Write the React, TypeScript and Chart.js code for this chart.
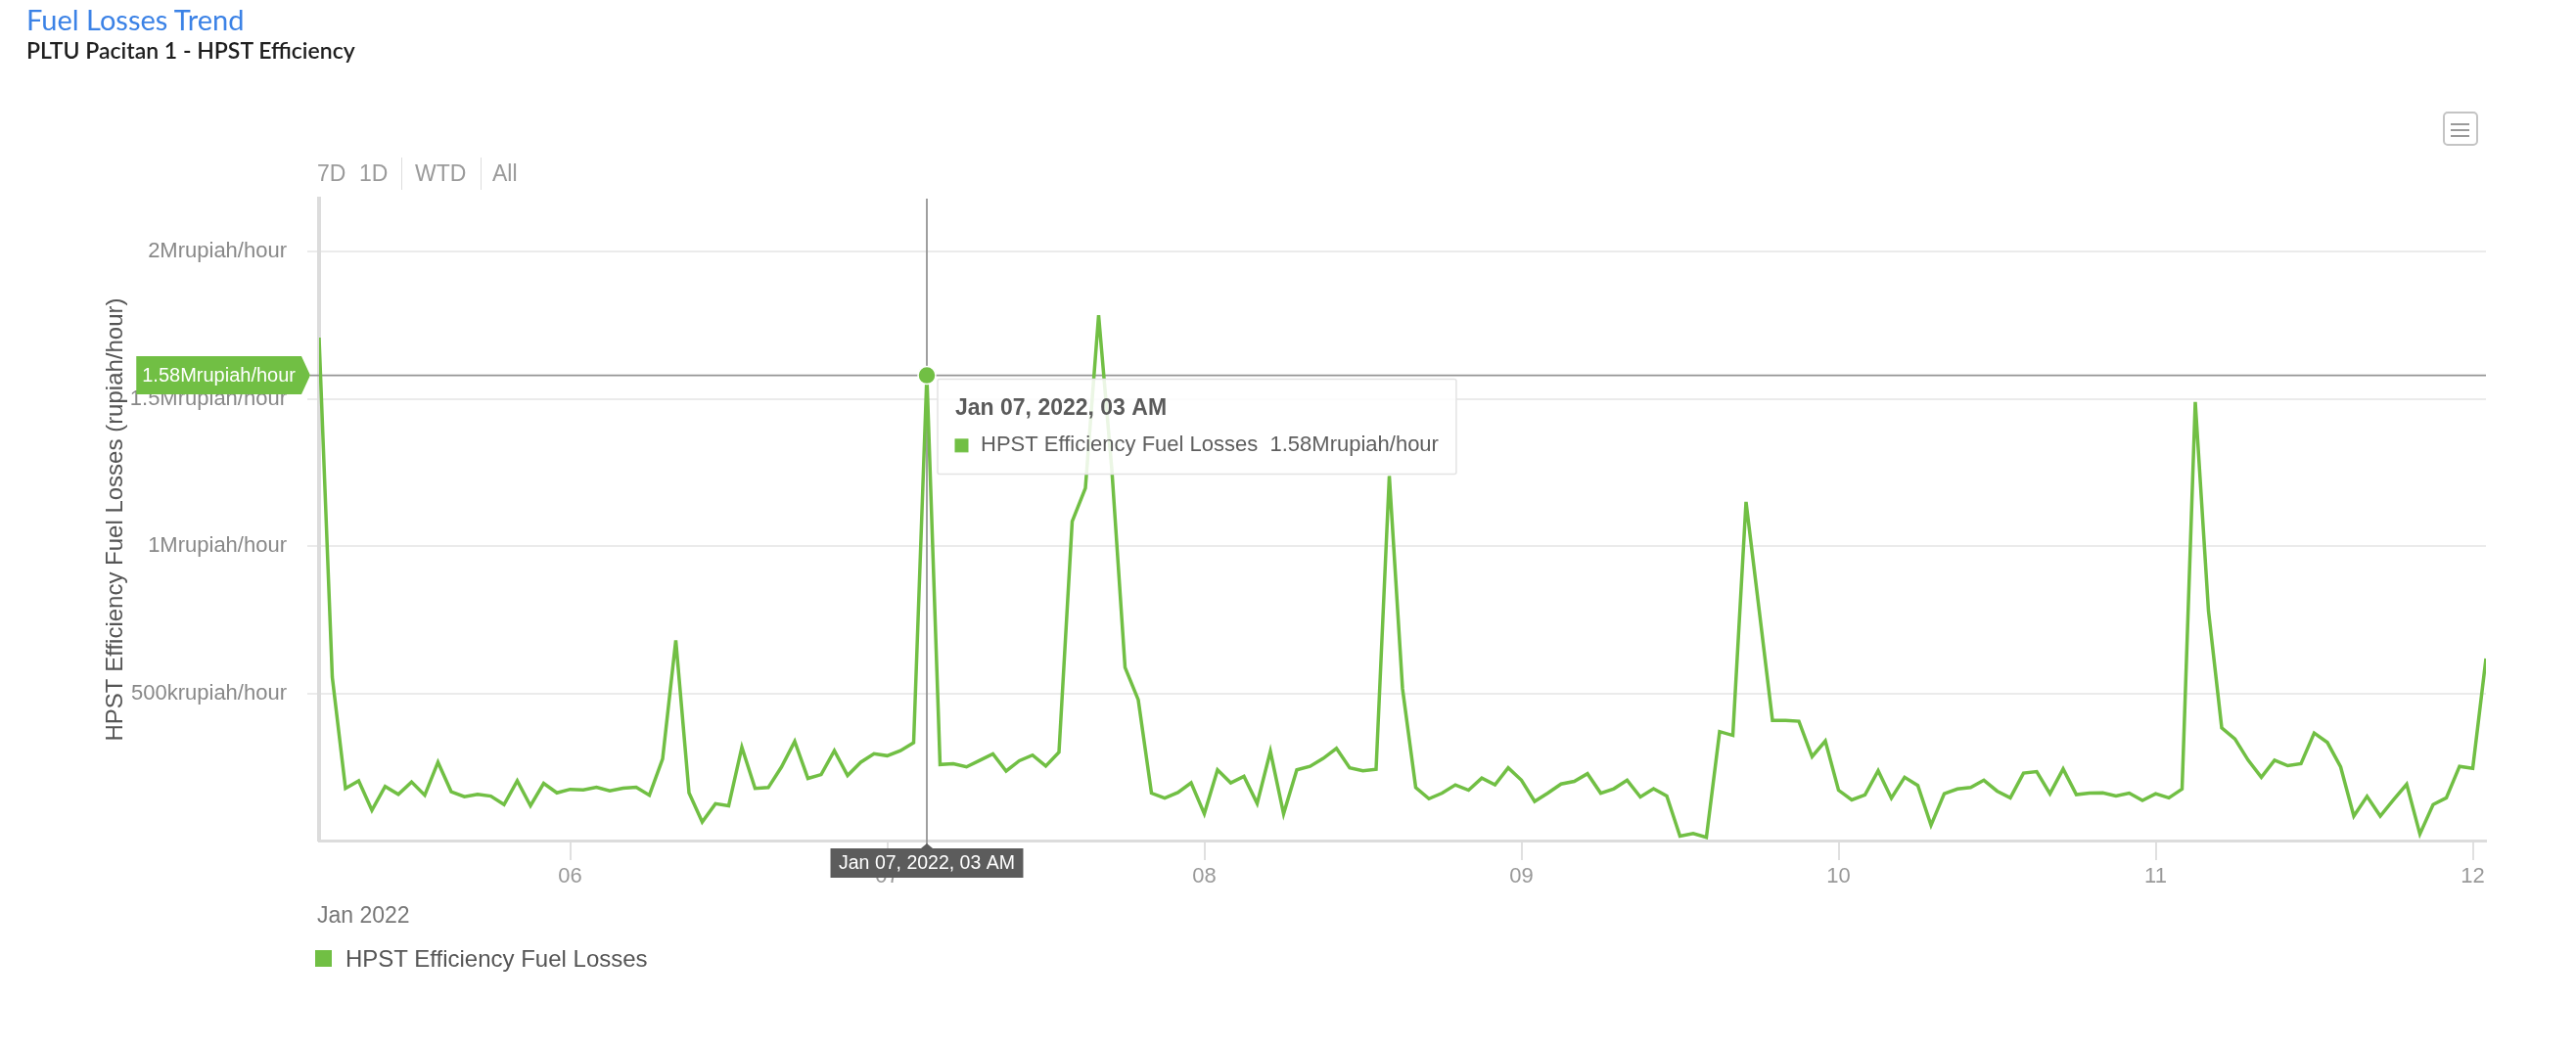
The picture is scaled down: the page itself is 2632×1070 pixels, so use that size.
import React, { useEffect, useRef } from 'react';
import { Chart, registerables, Tooltip } from 'chart.js';

Chart.register(...registerables);

const GREEN = '#71bf44';
const SERIES_NAME = 'HPST Efficiency Fuel Losses';
const Y_TITLE = 'HPST Efficiency Fuel Losses (rupiah/hour)';
const UNIT = 'rupiah/hour';
const HOUR_MS = 3600000;
const FIRST_READING = Date.UTC(2022, 0, 5, 5); // hourly readings from Jan 05, 05:00
const HIGHLIGHT_TIME = Date.UTC(2022, 0, 7, 3);
const FONT = "'Liberation Sans', Arial, Helvetica, sans-serif";

// hourly fuel losses (rupiah/hour)
const hourlyLosses = [
  1708000, 555000, 177000, 203000, 103000, 184000, 157000, 199000, 154000, 266000,
  166000, 149000, 157000, 151000, 122000, 203000, 118000, 194000, 162000, 174000,
  172000, 181000, 169000, 178000, 181000, 154000, 277000, 680000, 162000, 63000,
  125000, 118000, 317000, 177000, 180000, 250000, 337000, 211000, 224000, 305000,
  221000, 266000, 295000, 288000, 305000, 332000, 1580000, 258000, 261000, 250000,
  272000, 294000, 236000, 271000, 290000, 253000, 300000, 1084000, 1197000, 1784000,
  1260000, 588000, 478000, 161000, 144000, 163000, 196000, 91000, 240000, 196000,
  218000, 126000, 303000, 91000, 240000, 252000, 279000, 313000, 247000, 237000,
  242000, 1238000, 516000, 180000, 142000, 161000, 189000, 171000, 212000, 189000,
  247000, 205000, 133000, 161000, 192000, 201000, 227000, 161000, 176000, 205000,
  148000, 176000, 151000, 15000, 24000, 11000, 370000, 357000, 1150000, 780000,
  408000, 408000, 405000, 285000, 338000, 171000, 138000, 155000, 237000, 144000,
  215000, 187000, 52000, 159000, 175000, 180000, 205000, 168000, 145000, 229000,
  234000, 159000, 243000, 156000, 161000, 162000, 151000, 161000, 136000, 159000,
  145000, 175000, 1489000, 780000, 383000, 345000, 273000, 215000, 273000, 254000,
  261000, 365000, 333000, 250000, 83000, 150000, 83000, 138000, 191000, 22000,
  122000, 145000, 252000, 245000, 618000,
];

const xTickDays = [6, 7, 8, 9, 10, 11, 12];
const xTickLabels = ['06', '07', '08', '09', '10', '11', '12'];
const yTickValues = [500000, 1000000, 1500000, 2000000];
const yTickLabels = ['500krupiah/hour', '1Mrupiah/hour', '1.5Mrupiah/hour', '2Mrupiah/hour'];
const Y_MAX = 2180000;
const MONTHS = ['Jan', 'Feb', 'Mar', 'Apr', 'May', 'Jun', 'Jul', 'Aug', 'Sep', 'Oct', 'Nov', 'Dec'];

function pad2(n: number) {
  return String(n).padStart(2, '0');
}

function formatValue(v: number): string {
  if (v >= 1e6) return `${+(v / 1e6).toFixed(2)}M${UNIT}`;
  if (v >= 1e3) return `${+(v / 1e3).toFixed(2)}k${UNIT}`;
  return `${v}${UNIT}`;
}

function formatTime(ms: number): string {
  const d = new Date(ms);
  const h = d.getUTCHours();
  const h12 = h % 12 === 0 ? 12 : h % 12;
  return `${MONTHS[d.getUTCMonth()]} ${pad2(d.getUTCDate())}, ${d.getUTCFullYear()}, ${pad2(h12)} ${h < 12 ? 'AM' : 'PM'}`;
}

export default function App() {
  const canvasRef = useRef<HTMLCanvasElement>(null);

  useEffect(() => {
    const canvas = canvasRef.current;
    if (!canvas) return;
    const points = hourlyLosses.map((y, i) => ({ x: FIRST_READING + i * HOUR_MS, y }));
    const hi = points.findIndex((p) => p.x === HIGHLIGHT_TIME);

    (Tooltip as any).positioners.pinned = (items: any[]) => {
      if (!items.length) return false;
      const el = items[0].element;
      return { x: el.x + 13, y: el.y + 4 };
    };

    const crosshair = {
      id: 'crosshair',
      beforeDatasetsDraw(chart: any) {
        const el = chart.getDatasetMeta(0).data[hi];
        if (!el) return;
        const { ctx, chartArea } = chart;
        ctx.save();
        ctx.strokeStyle = '#959595';
        ctx.lineWidth = 1.8;
        ctx.beginPath();
        ctx.moveTo(el.x, chartArea.top);
        ctx.lineTo(el.x, chartArea.bottom + 4);
        ctx.moveTo(chartArea.left - 9, el.y);
        ctx.lineTo(chartArea.right, el.y);
        ctx.stroke();
        ctx.restore();
      },
      afterDatasetsDraw(chart: any) {
        const el = chart.getDatasetMeta(0).data[hi];
        if (!el) return;
        const { ctx, chartArea } = chart;
        ctx.save();
        // marker
        ctx.beginPath();
        ctx.arc(el.x, el.y, 9, 0, Math.PI * 2);
        ctx.fillStyle = GREEN;
        ctx.fill();
        ctx.lineWidth = 1.5;
        ctx.strokeStyle = '#ffffff';
        ctx.stroke();

        // y badge
        const yLabel = formatValue(hourlyLosses[hi]);
        ctx.font = `20px ${FONT}`;
        const tw = ctx.measureText(yLabel).width;
        const right = chartArea.left - 18;
        const leftX = right - tw - 12;
        const bh = 39;
        ctx.fillStyle = GREEN;
        ctx.beginPath();
        ctx.moveTo(leftX, el.y - bh / 2);
        ctx.lineTo(right, el.y - bh / 2);
        ctx.lineTo(chartArea.left - 9, el.y);
        ctx.lineTo(right, el.y + bh / 2);
        ctx.lineTo(leftX, el.y + bh / 2);
        ctx.closePath();
        ctx.fill();
        ctx.fillStyle = '#ffffff';
        ctx.textAlign = 'left';
        ctx.textBaseline = 'middle';
        ctx.fillText(yLabel, leftX + 6, el.y + 1);

        // x label
        const xLabel = formatTime(HIGHLIGHT_TIME);
        ctx.font = `19.5px ${FONT}`;
        const xw = ctx.measureText(xLabel).width + 17;
        const top = chartArea.bottom + 8;
        const xh = 30;
        ctx.fillStyle = '#5c5c5c';
        ctx.fillRect(el.x - xw / 2, top, xw, xh);
        ctx.beginPath();
        ctx.moveTo(el.x - 6, top);
        ctx.lineTo(el.x + 6, top);
        ctx.lineTo(el.x, top - 5);
        ctx.closePath();
        ctx.fill();
        ctx.fillStyle = '#ffffff';
        ctx.textAlign = 'center';
        ctx.fillText(xLabel, el.x, top + xh / 2 + 1);
        ctx.restore();
      },
    };

    const chart = new Chart(canvas, {
      type: 'line',
      data: {
        datasets: [
          {
            label: SERIES_NAME,
            data: points,
            borderColor: GREEN,
            backgroundColor: GREEN,
            borderWidth: 3.5,
            pointRadius: 0,
            pointHoverRadius: 0,
            tension: 0,
            fill: false,
          },
        ],
      },
      options: {
        responsive: false,
        animation: false,
        devicePixelRatio: 1,
        events: [],
        layout: { padding: { left: 0, top: 203, right: 92, bottom: 151 } },
        font: { family: FONT },
        scales: {
          x: {
            type: 'linear',
            min: points[0].x,
            max: points[points.length - 1].x,
            afterBuildTicks: (scale: any) => {
              scale.ticks = xTickDays.map((d) => ({ value: Date.UTC(2022, 0, d) }));
            },
            afterFit: (scale: any) => {
              scale.height = 60;
            },
            ticks: {
              autoSkip: false,
              maxRotation: 0,
              padding: 4,
              color: '#999999',
              font: { family: FONT, size: 22 },
              callback: (_v: any, i: number) => xTickLabels[i],
            },
            grid: {
              drawOnChartArea: false,
              drawTicks: true,
              tickLength: 20,
              color: '#e0e0e0',
              lineWidth: 2,
            },
            border: { display: true, color: '#dcdcdc', width: 3 },
          },
          y: {
            type: 'linear',
            min: 0,
            max: Y_MAX,
            afterBuildTicks: (scale: any) => {
              scale.ticks = yTickValues.map((v) => ({ value: v }));
            },
            afterFit: (scale: any) => {
              scale.width = 326;
            },
            ticks: {
              padding: 21,
              color: '#888888',
              font: { family: FONT, size: 22 },
              callback: (_v: any, i: number) => yTickLabels[i],
            },
            grid: {
              color: '#ebebeb',
              lineWidth: 2,
              drawTicks: true,
              tickLength: 12,
            },
            border: { display: true, color: '#dcdcdc', width: 4 },
            title: {
              display: true,
              text: Y_TITLE,
              color: '#555555',
              font: { family: FONT, size: 24 },
              padding: { top: 104, bottom: 0 },
            },
          },
        },
        plugins: {
          legend: { display: false },
          title: { display: false },
          tooltip: {
            enabled: true,
            position: 'pinned' as any,
            xAlign: 'left',
            yAlign: 'top',
            caretSize: 0,
            caretPadding: 0,
            cornerRadius: 2,
            backgroundColor: 'rgba(255,255,255,0.86)',
            borderColor: '#e3e3e3',
            borderWidth: 1.5,
            titleColor: '#5a5a5a',
            bodyColor: '#5e5e5e',
            titleFont: { family: FONT, size: 23, weight: 'bold' },
            bodyFont: { family: FONT, size: 22 },
            padding: { top: 16, bottom: 16, left: 18, right: 18 },
            titleMarginBottom: 11,
            boxWidth: 13,
            boxHeight: 13,
            boxPadding: 11,
            multiKeyBackground: GREEN,
            displayColors: true,
            callbacks: {
              title: (items: any[]) => formatTime(items[0].parsed.x),
              label: (item: any) => `${SERIES_NAME}  ${formatValue(item.parsed.y)}`,
              labelColor: () => ({ borderColor: GREEN, backgroundColor: GREEN, borderWidth: 0 }),
            },
          },
        },
      },
      plugins: [crosshair],
    } as any);

    if (hi >= 0 && chart.tooltip) {
      chart.tooltip.setActiveElements([{ datasetIndex: 0, index: hi }], { x: 0, y: 0 });
      chart.update();
    }

    return () => chart.destroy();
  }, []);

  const textBase: React.CSSProperties = {
    position: 'absolute',
    whiteSpace: 'nowrap',
    lineHeight: 1,
    margin: 0,
  };

  return (
    <div style={{ position: 'absolute', left: 0, top: 0, width: 2632, height: 1070, background: '#ffffff', overflow: 'hidden' }}>
      <canvas ref={canvasRef} width={2632} height={1070} style={{ position: 'absolute', left: 0, top: 0, width: 2632, height: 1070 }} />
      <div style={{ ...textBase, left: 27, top: 5, fontFamily: 'Lato, sans-serif', fontSize: 29, color: '#3b82e6' }}>
        Fuel Losses Trend
      </div>
      <div style={{ ...textBase, left: 27, top: 40, fontFamily: 'Lato, sans-serif', fontSize: 23, fontWeight: 600, color: '#1e1e1e' }}>
        PLTU Pacitan 1 - HPST Efficiency
      </div>
      {/* range selector */}
      <div style={{ ...textBase, left: 324, top: 166, fontFamily: FONT, fontSize: 23, color: '#9a9a9a' }}>7D</div>
      <div style={{ ...textBase, left: 367, top: 166, fontFamily: FONT, fontSize: 23, color: '#9a9a9a' }}>1D</div>
      <div style={{ position: 'absolute', left: 410, top: 161, width: 1, height: 33, background: '#dddddd' }} />
      <div style={{ ...textBase, left: 424, top: 166, fontFamily: FONT, fontSize: 23, color: '#9a9a9a' }}>WTD</div>
      <div style={{ position: 'absolute', left: 491, top: 161, width: 1, height: 33, background: '#dddddd' }} />
      <div style={{ ...textBase, left: 503, top: 166, fontFamily: FONT, fontSize: 23, color: '#9a9a9a' }}>All</div>
      {/* menu icon */}
      <div style={{ position: 'absolute', left: 2496, top: 114, width: 36, height: 35, boxSizing: 'border-box', border: '2px solid #c4c4c4', borderRadius: 5 }}>
        <div style={{ position: 'absolute', left: 6, top: 10, width: 19, height: 2, background: '#9a9a9a' }} />
        <div style={{ position: 'absolute', left: 6, top: 16, width: 19, height: 2, background: '#9a9a9a' }} />
        <div style={{ position: 'absolute', left: 6, top: 22, width: 19, height: 2, background: '#9a9a9a' }} />
      </div>
      {/* x-axis group label */}
      <div style={{ ...textBase, left: 324, top: 924, fontFamily: FONT, fontSize: 23, color: '#777777' }}>Jan 2022</div>
      {/* legend */}
      <div style={{ position: 'absolute', left: 322, top: 971, width: 17, height: 17, background: GREEN }} />
      <div style={{ ...textBase, left: 353, top: 968, fontFamily: FONT, fontSize: 24, color: '#555555' }}>{SERIES_NAME}</div>
    </div>
  );
}
